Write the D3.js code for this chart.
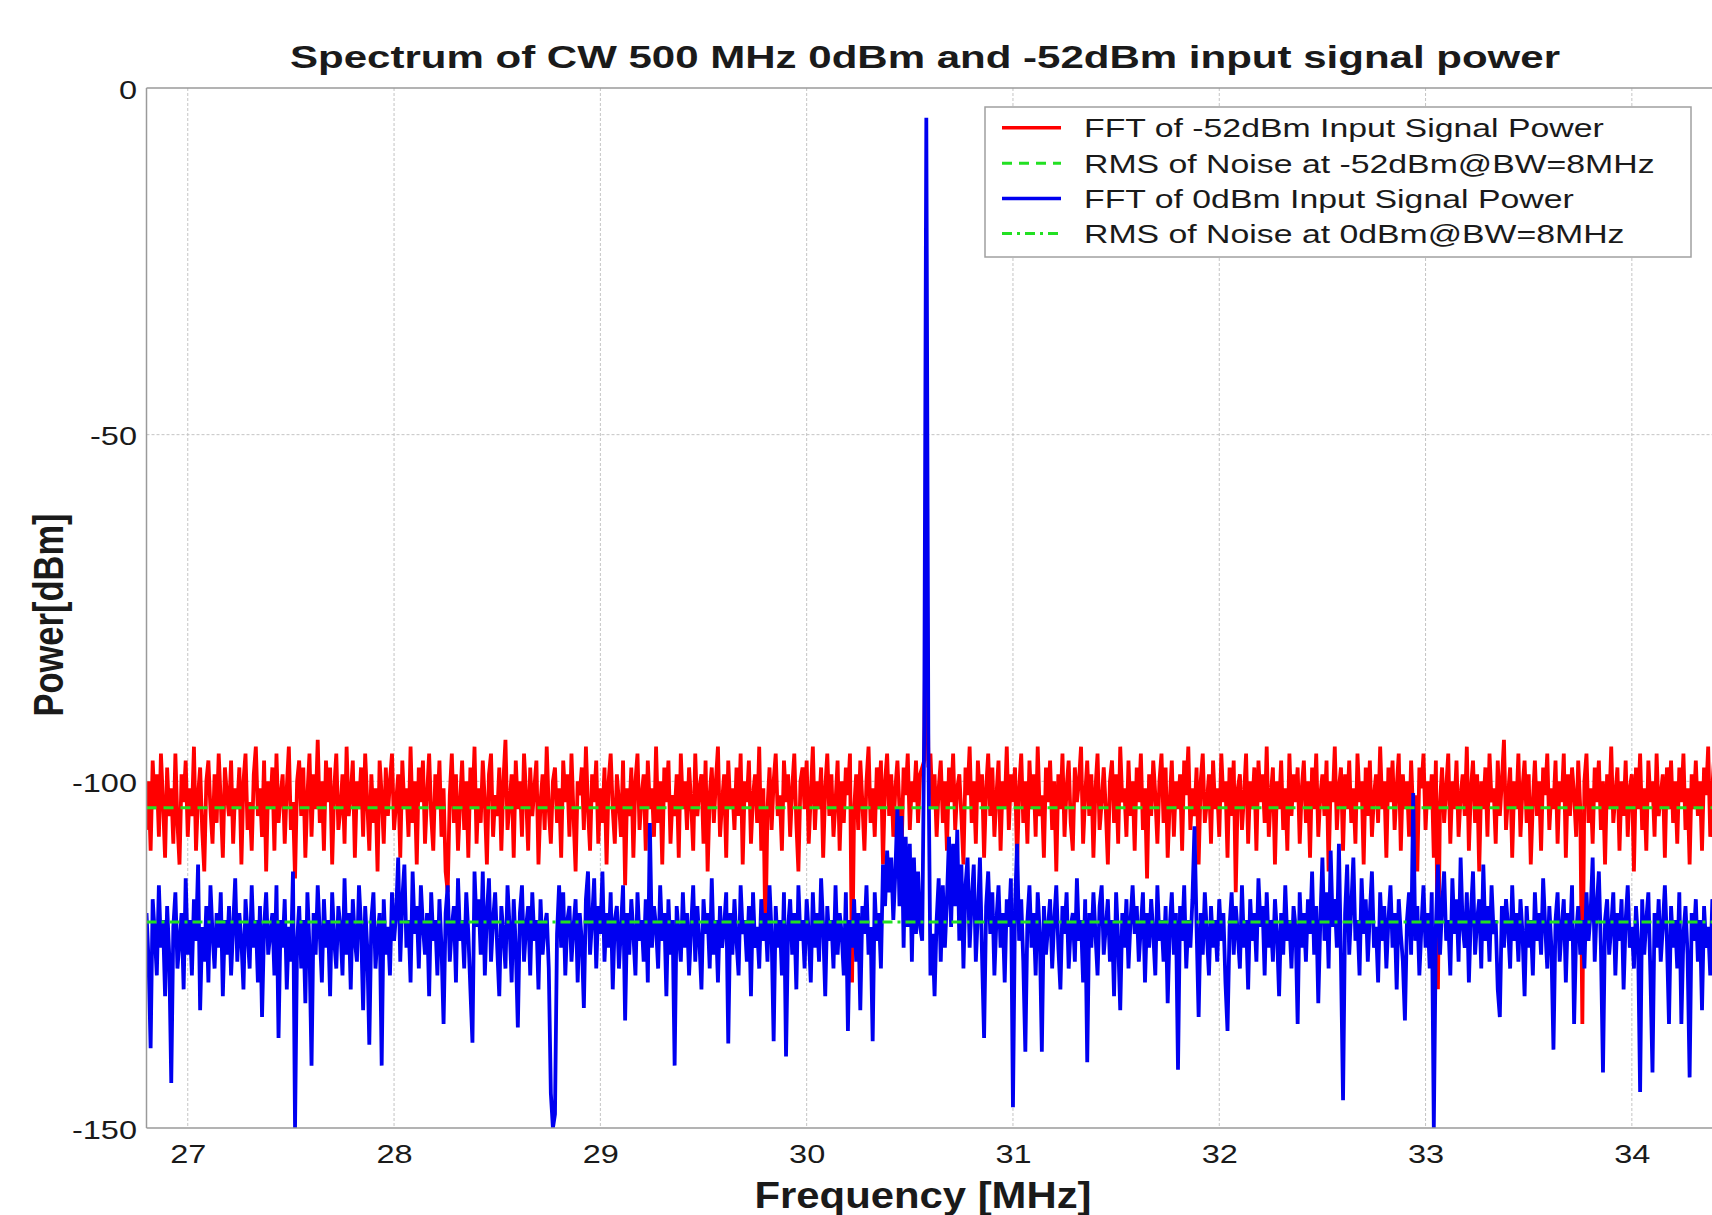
<!DOCTYPE html>
<html><head><meta charset="utf-8">
<script src="https://cdn.jsdelivr.net/npm/d3@7"></script>
<style>
html,body{margin:0;padding:0;background:#fff;}
svg{display:block;font-family:"Liberation Sans",Arial,sans-serif;}
</style>
</head><body>
<svg id="chart" width="1712" height="1215"></svg>
<script>
// ---------- data ----------
const titleText = "Spectrum of CW 500 MHz 0dBm and -52dBm input signal power";
const xLabelText = "Frequency [MHz]";
const yLabelText = "Power[dBm]";
const xTicks = [27, 28, 29, 30, 31, 32, 33, 34];
const yTicks = [0, -50, -100, -150];
const freqStart = 26.8;   // MHz, first FFT bin shown
const freqStep = 0.01;    // MHz per FFT bin

// FFT of -52dBm input signal power (dBm per bin)
const redValues = [
 -107,-100,-110,-97,-104,-99,-108,-96,-103,-111,-98,-105,-101,-109,-96,-106,-112,-99,-103,-97,
 -108,-101,-105,-95,-110,-102,-98,-107,-113,-100,-97,-104,-109,-99,-106,-96,-103,-111,-98,-102,
 -105,-97,-109,-101,-104,-98,-112,-100,-96,-107,-103,-110,-99,-95,-105,-101,-108,-97,-113,-100,
 -104,-98,-110,-96,-106,-102,-99,-109,-101,-95,-107,-103,-114,-100,-97,-105,-98,-111,-102,-96,
 -108,-99,-104,-94,-106,-100,-110,-97,-103,-98,-112,-101,-96,-107,-104,-99,-109,-95,-105,-102,
 -97,-111,-100,-104,-98,-108,-96,-103,-110,-99,-106,-101,-113,-97,-102,-109,-98,-105,-100,-96,
 -107,-103,-99,-111,-97,-104,-101,-108,-95,-106,-100,-112,-98,-103,-97,-109,-102,-96,-105,-110,
 -99,-104,-97,-108,-101,-113,-116,-102,-96,-106,-99,-110,-103,-97,-107,-100,-111,-98,-104,-95,
 -109,-101,-106,-97,-103,-112,-99,-96,-108,-102,-105,-98,-110,-100,-94,-107,-103,-99,-111,-97,
 -104,-100,-108,-96,-102,-110,-98,-105,-101,-97,-112,-103,-99,-107,-95,-104,-109,-100,-98,-106,
 -101,-111,-97,-103,-99,-108,-96,-105,-113,-100,-102,-98,-107,-95,-104,-110,-99,-103,-97,-109,
 -101,-106,-98,-112,-100,-96,-104,-109,-99,-103,-108,-97,-115,-101,-105,-98,-111,-100,-96,-107,
 -102,-99,-110,-97,-104,-101,-108,-95,-106,-100,-112,-98,-103,-97,-109,-102,-105,-99,-111,-96,
 -104,-100,-107,-98,-103,-110,-96,-105,-101,-99,-109,-97,-113,-102,-98,-106,-100,-95,-108,-103,
 -99,-111,-97,-104,-101,-107,-98,-105,-96,-112,-100,-103,-97,-109,-102,-99,-106,-95,-110,-101,
 -123,-104,-98,-107,-100,-96,-105,-102,-110,-97,-103,-99,-108,-101,-96,-106,-113,-100,-98,-104,
 -97,-109,-102,-95,-107,-100,-104,-98,-111,-101,-96,-105,-99,-108,-103,-97,-110,-100,-106,-98,
 -102,-96,-129,-104,-99,-107,-97,-103,-110,-100,-95,-106,-101,-108,-98,-104,-97,-112,-100,-96,
 -105,-99,-108,-101,-97,-104,-110,-98,-102,-96,-107,-100,-103,-97,-106,-99,-98,-97,-60,-98,
 -96,-104,-99,-108,-101,-97,-106,-100,-110,-98,-103,-96,-107,-101,-99,-105,-112,-98,-102,-95,
 -106,-100,-109,-97,-103,-99,-111,-101,-96,-105,-98,-108,-102,-97,-110,-100,-104,-95,-107,-99,
 -103,-98,-112,-101,-96,-106,-100,-109,-97,-104,-99,-108,-95,-105,-102,-111,-98,-103,-97,-107,
 -100,-113,-99,-104,-96,-108,-101,-97,-106,-110,-98,-103,-100,-95,-109,-102,-97,-105,-99,-111,
 -101,-96,-107,-103,-98,-104,-112,-100,-97,-106,-99,-109,-95,-103,-101,-108,-97,-105,-100,-110,
 -98,-103,-96,-107,-101,-114,-99,-105,-97,-102,-109,-100,-96,-106,-98,-111,-103,-97,-108,-100,
 -104,-99,-110,-97,-102,-95,-107,-101,-105,-98,-112,-100,-96,-106,-103,-99,-109,-97,-104,-101,
 -108,-96,-103,-100,-111,-98,-105,-97,-116,-101,-99,-107,-102,-96,-109,-100,-104,-98,-110,-97,
 -103,-99,-106,-95,-108,-102,-98,-112,-100,-104,-97,-107,-101,-110,-96,-105,-99,-103,-98,-109,
 -101,-97,-106,-100,-111,-98,-104,-96,-108,-102,-99,-105,-97,-113,-100,-103,-95,-107,-101,-98,
 -110,-99,-104,-97,-106,-101,-109,-96,-103,-100,-112,-98,-105,-97,-108,-102,-99,-106,-95,-104,
 -100,-111,-98,-103,-97,-107,-101,-96,-110,-99,-104,-100,-108,-97,-105,-102,-113,-98,-101,-96,
 -107,-100,-104,-99,-111,-97,-130,-103,-98,-106,-101,-96,-109,-100,-104,-97,-108,-102,-99,-105,
 -95,-110,-101,-97,-106,-99,-113,-100,-104,-98,-108,-96,-103,-101,-109,-97,-105,-100,-94,-107,
 -102,-98,-111,-100,-104,-96,-108,-101,-97,-106,-99,-112,-103,-97,-105,-100,-110,-98,-102,-96,
 -107,-101,-104,-97,-109,-100,-103,-96,-111,-99,-105,-98,-102,-108,-97,-104,-135,-100,-96,-106,
 -101,-109,-98,-103,-97,-107,-100,-112,-99,-104,-95,-106,-102,-98,-110,-100,-105,-97,-108,-101,
 -99,-113,-98,-104,-96,-107,-101,-110,-97,-103,-100,-108,-96,-105,-102,-99,-111,-98,-104,-97,
 -106,-100,-109,-98,-103,-96,-107,-101,-112,-99,-104,-97,-105,-100,-110,-98,-102,-95,-108,-101,
 -96
];

// FFT of 0dBm input signal power (dBm per bin)
const blueValues = [
 -119,-126,-138.5,-117,-122,-128,-115,-124,-120,-131,-118,-125,-143.5,-121,-116,-127,-123,-119,-130,-114,
 -125,-120,-128,-117,-123,-112,-133,-121,-126,-118,-129,-115,-122,-127,-119,-124,-116,-131,-120,-125,
 -118,-128,-121,-114,-126,-119,-123,-130,-117,-122,-127,-115,-124,-120,-129,-118,-134,-121,-116,-125,
 -122,-119,-128,-115,-137,-120,-124,-117,-130,-121,-126,-113,-150,-123,-118,-127,-120,-132,-116,-124,
 -141,-119,-125,-115,-122,-129,-117,-124,-120,-131,-116,-123,-127,-118,-121,-128,-114,-125,-119,-130,
 -117,-123,-126,-115,-121,-133,-118,-124,-138,-120,-116,-127,-122,-119,-141,-117,-125,-121,-128,-116,
 -123,-119,-111,-126,-117,-112,-124,-120,-129,-113,-122,-118,-127,-115,-121,-125,-119,-131,-116,-123,
 -120,-128,-117,-124,-135,-119,-115,-126,-121,-118,-129,-114,-123,-120,-127,-116,-122,-130,-137.7,-113,
 -121,-117,-125,-113,-128,-119,-114,-126,-120,-116,-124,-131,-118,-122,-127,-115,-121,-129,-117,-124,
 -135.5,-119,-115,-126,-121,-118,-128,-116,-123,-120,-130,-117,-125,-121,-119,-127,-145,-150,-148,-122,
 -115,-124,-116,-128,-120,-118,-126,-121,-117,-129,-119,-123,-132.7,-117,-113,-125,-120,-114,-127,-118,
 -122,-113,-126,-119,-124,-116,-130,-120,-118,-127,-121,-115,-134.5,-119,-125,-117,-122,-128,-116,-123,
 -120,-126,-117,-129,-106,-124,-118,-121,-127,-115,-123,-119,-131,-117,-125,-120,-141,-118,-122,-126,
 -116,-124,-119,-128,-121,-115,-126,-118,-123,-130,-117,-122,-119,-127,-114,-125,-120,-129,-118,-124,
 -121,-116,-137.8,-119,-125,-117,-123,-128,-115,-122,-120,-126,-118,-131,-116,-124,-121,-127,-117,-123,
 -119,-126,-115,-122,-137.5,-118,-124,-120,-128,-116,-139.7,-121,-117,-125,-119,-130,-115,-123,-120,-127,
 -117,-122,-129,-116,-124,-119,-126,-114,-121,-131,-118,-123,-120,-127,-115,-125,-119,-122,-128,-116,
 -136,-120,-124,-117,-126,-119,-133,-118,-122,-115,-125,-121,-137.5,-116,-123,-119,-127,-112,-118,-110,
 -116,-111,-120,-113,-103.7,-118,-105,-124,-108,-121,-109,-126,-111,-122,-113,-121,-123,-92,-4.3,-95,
 -128,-122,-131,-120,-114,-126,-115,-124,-117,-108,-121,-109,-118,-107,-123,-112,-127,-115,-111,-124,
 -117,-112,-126,-119,-111,-125,-137,-118,-113,-122,-116,-128,-120,-115,-124,-119,-129,-117,-121,-114,
 -147,-118,-109,-123,-117,-126,-139,-120,-115,-124,-119,-128,-116,-122,-139,-118,-125,-121,-117,-127,
 -120,-115,-124,-130,-118,-122,-116,-127,-121,-119,-126,-114,-123,-120,-129,-117,-140.5,-119,-124,-116,
 -122,-128,-118,-115,-125,-121,-117,-126,-120,-131,-116,-123,-133,-119,-124,-117,-127,-120,-115,-122,
 -118,-126,-121,-116,-129,-119,-124,-117,-122,-128,-115,-123,-120,-126,-118,-132,-121,-116,-125,-119,
 -141.6,-118,-123,-115,-127,-120,-124,-117,-106.5,-121,-134,-119,-125,-116,-122,-128,-118,-124,-120,-126,
 -117,-123,-119,-129,-136,-121,-116,-125,-118,-122,-127,-115,-124,-120,-130,-117,-123,-119,-126,-114,
 -121,-118,-128,-116,-124,-120,-126,-117,-122,-131,-119,-125,-115,-123,-120,-127,-118,-121,-135,-116,
 -124,-119,-126,-117,-122,-113,-125,-118,-132,-120,-111,-123,-116,-127,-110,-121,-117,-124,-109,-126,
 -146,-119,-112,-125,-118,-111,-123,-120,-128,-114,-122,-117,-126,-119,-113,-124,-121,-129,-116,-123,
 -118,-127,-120,-115,-124,-119,-130,-117,-122,-126,-134.5,-120,-116,-125,-101.7,-123,-118,-128,-121,-115,
 -124,-119,-127,-116,-150,-121,-112,-125,-118,-113,-123,-120,-128,-114,-122,-117,-126,-111,-121,-124,
 -116,-129,-119,-113,-125,-120,-117,-127,-112,-123,-118,-126,-115,-122,-120,-130,-134,-118,-124,-117,
 -121,-127,-115,-123,-119,-126,-117,-122,-131,-118,-124,-120,-128,-116,-123,-119,-125,-114,-121,-127,
 -118,-124,-138.7,-120,-116,-126,-121,-117,-129,-119,-123,-115,-135,-122,-118,-125,-120,-127,-116,-123,
 -119,-111,-126,-118,-113,-124,-142,-120,-117,-125,-121,-116,-128,-119,-123,-117,-130,-120,-115,-124,
 -121,-127,-118,-123,-144.8,-117,-125,-120,-116,-128,-142,-119,-124,-117,-126,-121,-115,-123,-135,-118,
 -124,-120,-127,-116,-135,-122,-118,-125,-142.7,-119,-123,-117,-126,-120,-133,-118,-124,-121,-128,-117,
 -122
];

const rmsRed = -103.8;   // RMS of noise at -52dBm
const rmsBlue = -120.3;  // RMS of noise at 0dBm

const legendLabels = [
  "FFT of -52dBm Input Signal Power",
  "RMS of Noise at -52dBm@BW=8MHz",
  "FFT of 0dBm Input Signal Power",
  "RMS of Noise at 0dBm@BW=8MHz"
];

// ---------- layout ----------
const svg = d3.select("#chart");
const W = 1712, H = 1215;
const plot = {left: 146.5, top: 88, bottom: 1128};
const xDomain = [26.8, 34.4];
const pxPerMHz = 206.3;
const x = d3.scaleLinear().domain(xDomain).range([plot.left, plot.left + (xDomain[1] - xDomain[0]) * pxPerMHz]);
const y = d3.scaleLinear().domain([-150, 0]).range([plot.bottom, plot.top]);
const plotRight = W;

const RED = "#ff0000", BLUE = "#0000f0", GREEN = "#22e022";
const TEXT = "#1a1a1a";
const STRETCH = 1.3;
const SERIES_W = 3.8;

function stretch(sel, f) {
  sel.each(function () {
    const w = this.getComputedTextLength();
    d3.select(this).attr("textLength", w * f).attr("lengthAdjust", "spacingAndGlyphs");
  });
}

svg.append("rect").attr("width", W).attr("height", H).attr("fill", "#ffffff");

// grid
const grid = svg.append("g").attr("stroke", "#c4c4c4").attr("stroke-width", 1).attr("stroke-dasharray", "3,2");
grid.selectAll("line.v").data(xTicks).join("line")
  .attr("x1", d => x(d)).attr("x2", d => x(d))
  .attr("y1", plot.top).attr("y2", plot.bottom);
grid.selectAll("line.h").data(yTicks.filter(d => d !== 0 && d !== -150)).join("line")
  .attr("x1", plot.left).attr("x2", plotRight)
  .attr("y1", d => y(d)).attr("y2", d => y(d));

// clip
svg.append("clipPath").attr("id", "clip").append("rect")
  .attr("x", plot.left).attr("y", plot.top - 2)
  .attr("width", plotRight - plot.left).attr("height", plot.bottom - plot.top + 2);

const toPoints = vals => vals.map((v, i) => [freqStart + i * freqStep, v]);
const line = d3.line().x(d => x(d[0])).y(d => y(d[1]));

const plotG = svg.append("g").attr("clip-path", "url(#clip)");
plotG.append("path").datum(toPoints(redValues))
  .attr("d", line).attr("fill", "none").attr("stroke", RED)
  .attr("stroke-width", SERIES_W).attr("stroke-linejoin", "bevel");
plotG.append("path").datum(toPoints(blueValues))
  .attr("d", line).attr("fill", "none").attr("stroke", BLUE)
  .attr("stroke-width", SERIES_W).attr("stroke-linejoin", "bevel");
plotG.append("line")
  .attr("x1", plot.left).attr("x2", plotRight).attr("y1", y(rmsRed)).attr("y2", y(rmsRed))
  .attr("stroke", GREEN).attr("stroke-width", 3).attr("stroke-dasharray", "10,7");
plotG.append("line")
  .attr("x1", plot.left).attr("x2", plotRight).attr("y1", y(rmsBlue)).attr("y2", y(rmsBlue))
  .attr("stroke", GREEN).attr("stroke-width", 3).attr("stroke-dasharray", "10,5,3,5");

// frame
const frame = svg.append("g").attr("stroke", "#9a9a9a").attr("stroke-width", 1.5).attr("fill", "none");
frame.append("line").attr("x1", plot.left).attr("x2", plotRight).attr("y1", plot.top).attr("y2", plot.top);
frame.append("line").attr("x1", plot.left).attr("x2", plotRight).attr("y1", plot.bottom).attr("y2", plot.bottom);
frame.append("line").attr("x1", plot.left).attr("x2", plot.left).attr("y1", plot.top).attr("y2", plot.bottom);

// axes
const fmt = d => String(d);
const yAxisG = svg.append("g").attr("transform", `translate(${plot.left},0)`)
  .call(d3.axisLeft(y).tickValues(yTicks).tickSize(0).tickPadding(9.5).tickFormat(fmt));
yAxisG.select(".domain").remove();
yAxisG.selectAll("text").attr("font-size", 25).attr("fill", TEXT)
  .attr("font-family", "'Liberation Sans',Arial,sans-serif").attr("dy", "0.4em");
stretch(yAxisG.selectAll("text"), STRETCH);

const xAxisG = svg.append("g").attr("transform", `translate(0,${plot.bottom})`)
  .call(d3.axisBottom(x).tickValues(xTicks).tickSize(0).tickPadding(17).tickFormat(fmt));
xAxisG.select(".domain").remove();
xAxisG.selectAll("text").attr("font-size", 25).attr("fill", TEXT)
  .attr("font-family", "'Liberation Sans',Arial,sans-serif");
stretch(xAxisG.selectAll("text"), STRETCH);

// title
svg.append("text").attr("x", 925).attr("y", 68)
  .attr("text-anchor", "middle").attr("font-size", 32).attr("font-weight", "bold").attr("fill", TEXT)
  .attr("textLength", 1270).attr("lengthAdjust", "spacingAndGlyphs")
  .text(titleText);

// x label
svg.append("text").attr("x", 923).attr("y", 1208)
  .attr("text-anchor", "middle").attr("font-size", 36).attr("font-weight", "bold").attr("fill", TEXT)
  .attr("textLength", 337).attr("lengthAdjust", "spacingAndGlyphs")
  .text(xLabelText);

// y label
svg.append("text").attr("transform", "translate(63,615) scale(1.22,1) rotate(-90)")
  .attr("text-anchor", "middle").attr("font-size", 34.5).attr("font-weight", "bold").attr("fill", TEXT)
  .text(yLabelText);

// legend
const lg = svg.append("g");
lg.append("rect").attr("x", 985).attr("y", 107).attr("width", 706).attr("height", 150)
  .attr("fill", "#ffffff").attr("stroke", "#a0a0a0").attr("stroke-width", 1.5);
const legendStyles = [
  {color: RED, dash: null, w: 3.4},
  {color: GREEN, dash: "10,7", w: 3},
  {color: BLUE, dash: null, w: 3.4},
  {color: GREEN, dash: "10,5,3,5", w: 3}
];
const rowY = [127.7, 163.3, 198.5, 233.6];
legendLabels.forEach((lab, i) => {
  const st = legendStyles[i];
  const ln = lg.append("line").attr("x1", 1002).attr("x2", 1061)
    .attr("y1", rowY[i]).attr("y2", rowY[i])
    .attr("stroke", st.color).attr("stroke-width", st.w);
  if (st.dash) ln.attr("stroke-dasharray", st.dash);
  const t = lg.append("text").attr("x", 1084).attr("y", rowY[i]).attr("dy", "0.36em")
    .attr("font-size", 26).attr("fill", TEXT).text(lab);
  stretch(t, STRETCH);
});
</script>
</body></html>
